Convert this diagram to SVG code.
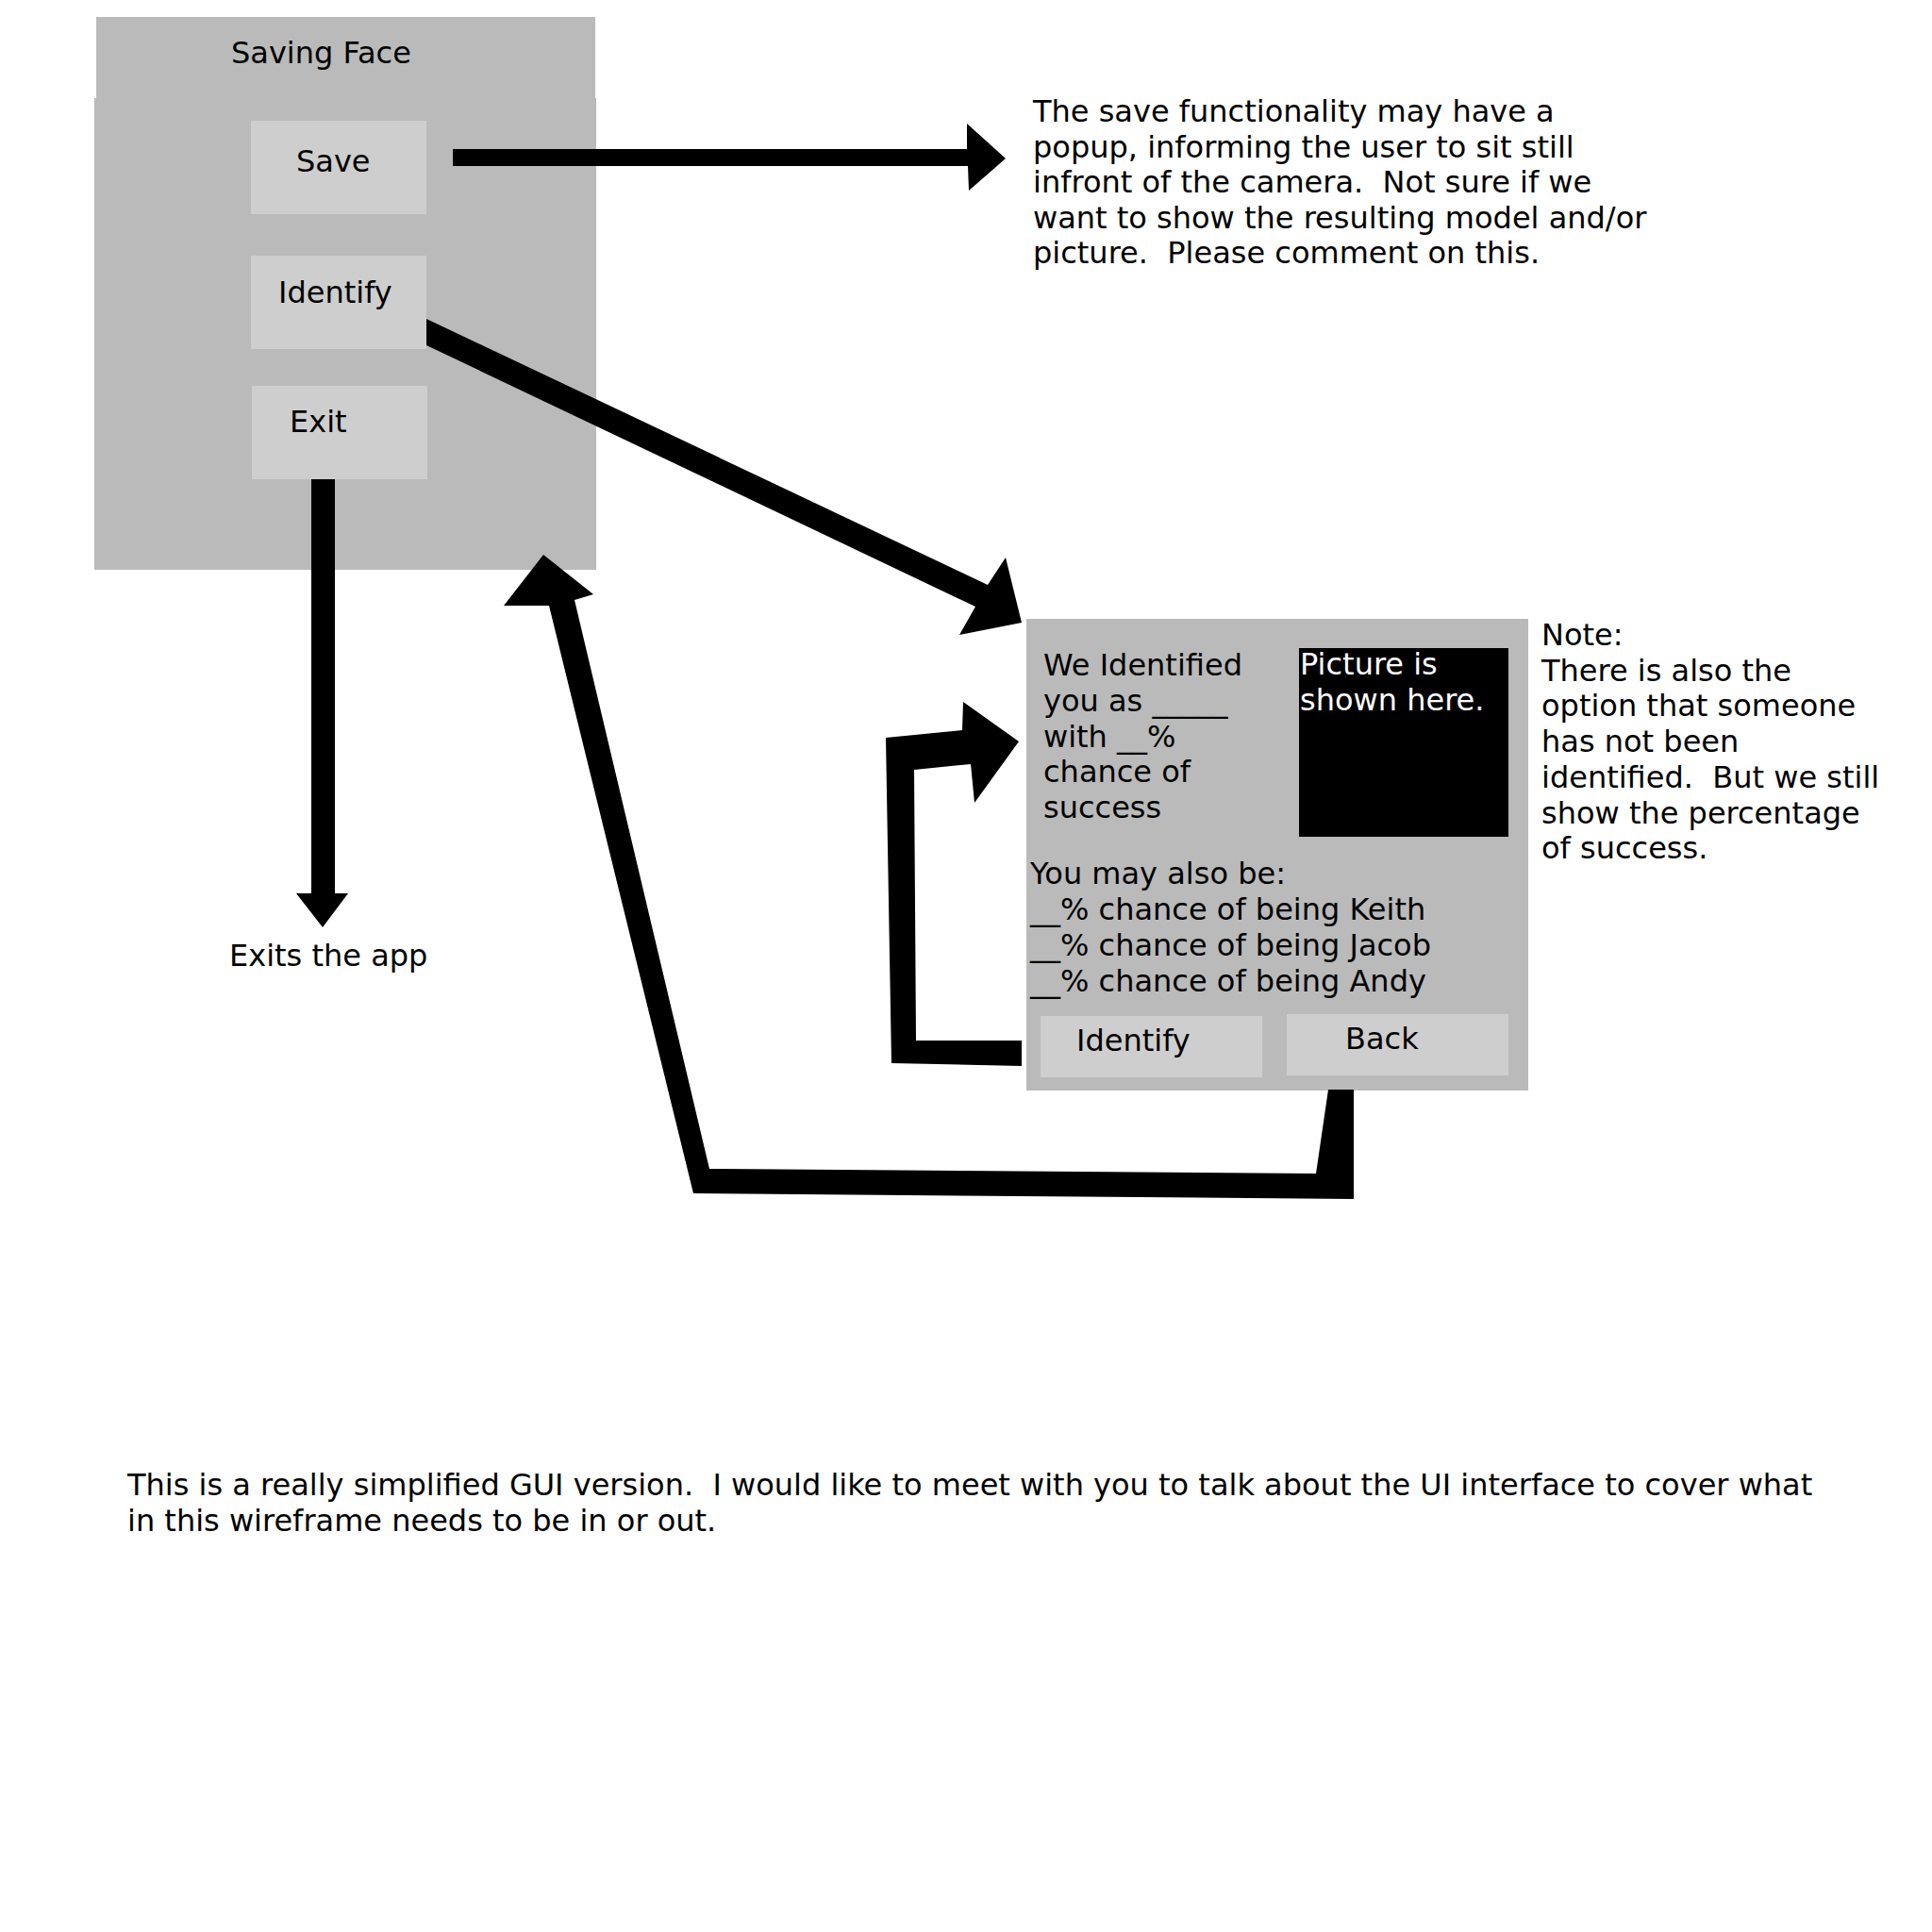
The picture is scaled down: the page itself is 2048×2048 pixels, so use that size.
<svg xmlns="http://www.w3.org/2000/svg" width="2048" height="2048" viewBox="0 0 2048 2048">
  <style>
    .panel { fill: #bababa; }
    .btn { fill: #cecece; }
    .pic { fill: #000000; }
    .arrow { fill: #000000; stroke: none; }
    text { font-family: "DejaVu Sans", "Liberation Sans", sans-serif; font-size: 32px; fill: #000000; white-space: pre; }
    .white { fill: #ffffff; }
  </style>
  <rect x="0" y="0" width="2048" height="2048" fill="#ffffff"/>

  <!-- Main screen -->
  <g id="main-screen">
    <rect class="panel" x="102" y="18" width="529" height="87"/>
    <rect class="panel" x="100" y="104" width="532" height="500"/>
    <text x="245" y="67">Saving Face</text>
  </g>
  <g id="btn-save">
    <rect class="btn" x="266" y="128" width="186" height="99"/>
    <text x="314" y="182">Save</text>
  </g>
  <g id="btn-identify">
    <rect class="btn" x="266" y="271" width="186" height="99"/>
    <text x="295" y="321">Identify</text>
  </g>
  <g id="btn-exit">
    <rect class="btn" x="267" y="409" width="186" height="99"/>
    <text x="307" y="458">Exit</text>
  </g>

  <!-- Identification result screen -->
  <g id="result-screen">
    <rect class="panel" x="1088" y="656" width="532" height="500"/>
    <text x="1106" y="716">We Identified</text>
    <text x="1106" y="753.7">you as _____</text>
    <text x="1106" y="791.5">with __%</text>
    <text x="1106" y="829.2">chance of</text>
    <text x="1106" y="867">success</text>
    <rect class="pic" x="1377" y="687" width="222" height="200"/>
    <text class="white" x="1378" y="715">Picture is</text>
    <text class="white" x="1378" y="753">shown here.</text>
    <text x="1092" y="937">You may also be:</text>
    <text x="1092" y="975">__% chance of being Keith</text>
    <text x="1092" y="1013">__% chance of being Jacob</text>
    <text x="1092" y="1051">__% chance of being Andy</text>
  </g>
  <g id="btn-identify-again">
    <rect class="btn" x="1103" y="1077" width="235" height="65"/>
    <text x="1141" y="1114">Identify</text>
  </g>
  <g id="btn-back">
    <rect class="btn" x="1364" y="1075" width="235" height="65"/>
    <text x="1426" y="1112">Back</text>
  </g>

  <!-- Notes -->
  <g id="note-save">
    <text x="1095" y="129">The save functionality may have a</text>
    <text x="1095" y="166.6">popup, informing the user to sit still</text>
    <text x="1095" y="204.2" xml:space="preserve">infront of the camera.  Not sure if we</text>
    <text x="1095" y="241.8">want to show the resulting model and/or</text>
    <text x="1095" y="279.4" xml:space="preserve">picture.  Please comment on this.</text>
  </g>
  <g id="note-exit">
    <text x="243" y="1024">Exits the app</text>
  </g>
  <g id="note-unidentified">
    <text x="1634" y="684">Note:</text>
    <text x="1634" y="721.7">There is also the</text>
    <text x="1634" y="759.4">option that someone</text>
    <text x="1634" y="797.1">has not been</text>
    <text x="1634" y="834.8" xml:space="preserve">identified.  But we still</text>
    <text x="1634" y="872.5">show the percentage</text>
    <text x="1634" y="910.2">of success.</text>
  </g>
  <g id="note-summary">
    <text x="135" y="1585" xml:space="preserve">This is a really simplified GUI version.  I would like to meet with you to talk about the UI interface to cover what</text>
    <text x="135" y="1623">in this wireframe needs to be in or out.</text>
  </g>

  <!-- Connectors -->
  <g id="connectors">
    <polygon class="arrow" points="480,158 1025,158 1025,131 1066,168 1027,202 1026,176 480,176"/>
    <polygon class="arrow" points="330,508 355,508 355,947 369,947 342,983 314,947 330,947"/>
    <polygon class="arrow" points="452,338 1047,620 1066,591 1083,660 1017,673 1034,643 452,366"/>
    <polygon class="arrow" points="1083,1103 971,1103 969,816 1029,810 1033,851 1080,786 1021,744 1020,774 939,782 945,1127 1083,1130"/>
    <polygon class="arrow" points="576,588 629,630 609,636 752,1239 1395,1244 1408,1155 1435,1155 1435,1271 735,1265 582,642 534,642"/>
  </g>
</svg>
